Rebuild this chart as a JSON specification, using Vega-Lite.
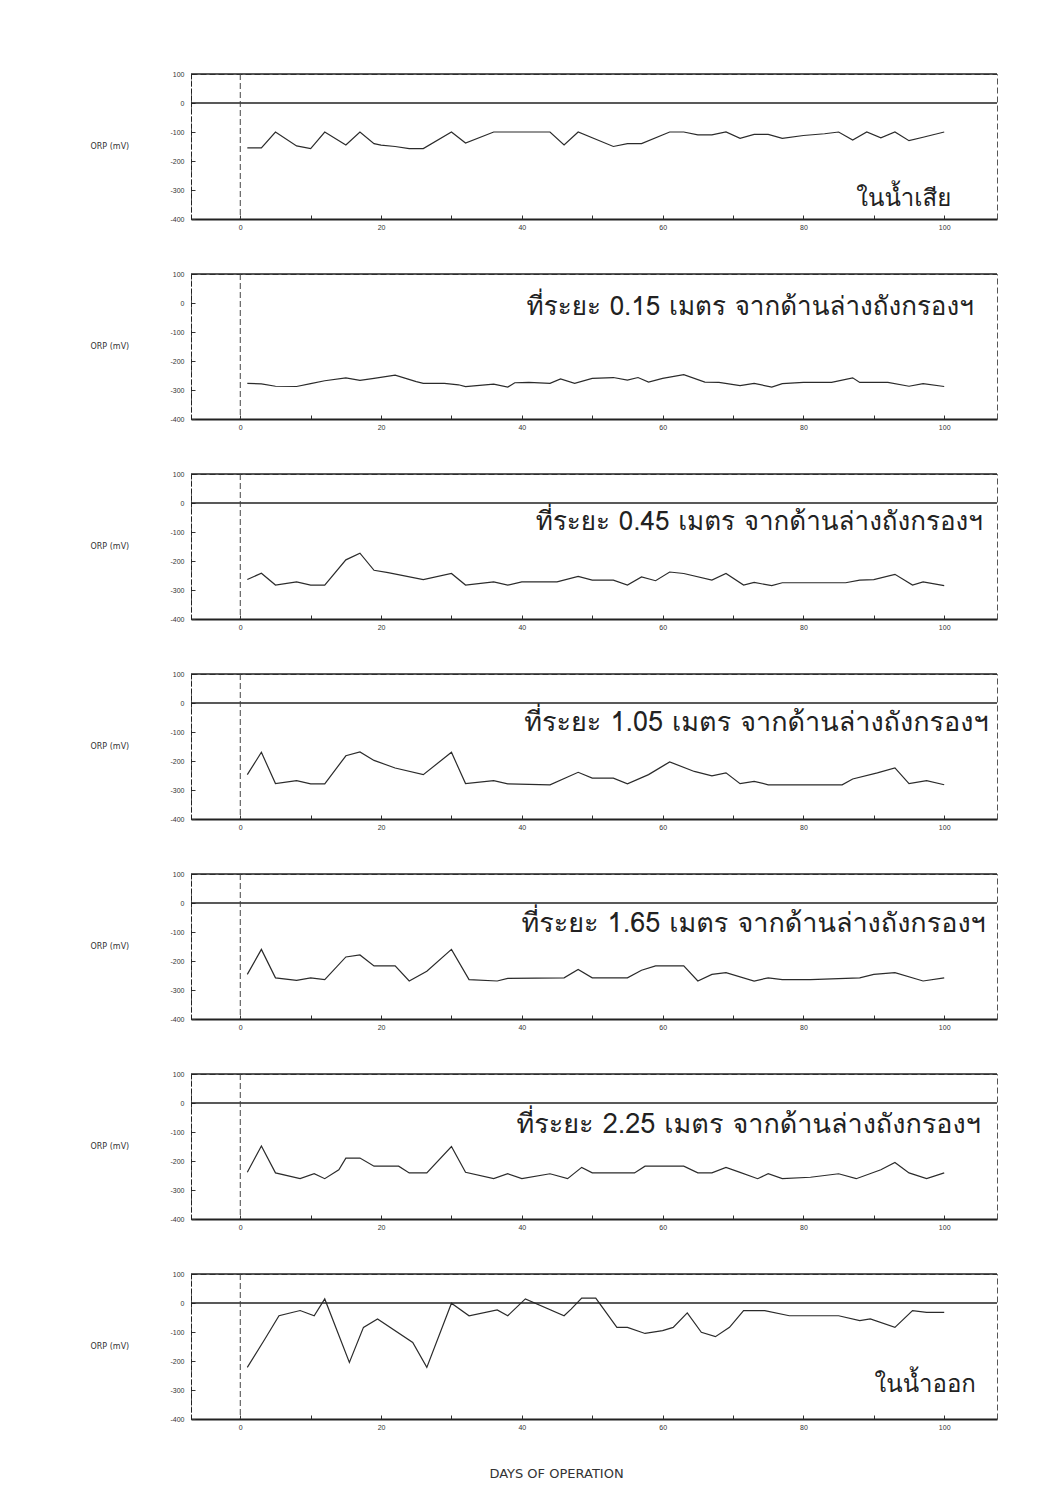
{
  "$schema": "https://vega.github.io/schema/vega-lite/v6.json",
  "background": "white",
  "padding": {"left": 89, "top": 69, "right": 10, "bottom": 10},
  "spacing": 55,
  "bounds": "flush",
  "config": {
    "font": "Liberation Sans",
    "view": {"stroke": "#555", "strokeDash": [6, 3], "strokeWidth": 1},
    "axis": {
      "grid": false,
      "domainColor": "#222",
      "tickColor": "#333",
      "labelColor": "#333",
      "labelFont": "Liberation Sans",
      "labelFontSize": 7,
      "labelOverlap": false,
      "titleFont": "DejaVu Sans",
      "titleFontWeight": "normal",
      "titleColor": "#333"
    },
    "axisX": {"domainWidth": 2, "tickSize": -4, "tickWidth": 1, "labelPadding": 8},
    "axisY": {"domainWidth": 1, "domainDash": [5, 2], "tickSize": -4, "labelPadding": 11, "titleAngle": 0, "titleAlign": "left", "titleBaseline": "middle", "titleX": -101, "titleY": 72, "titleFontSize": 8}
  },
  "datasets": {
    "s1": [
      {"day": 1, "orp": -155}, {"day": 3, "orp": -155}, {"day": 5, "orp": -100}, {"day": 8, "orp": -148}, {"day": 10, "orp": -157}, {"day": 12, "orp": -100}, {"day": 15, "orp": -145}, {"day": 17, "orp": -100}, {"day": 19, "orp": -140}, {"day": 20, "orp": -145}, {"day": 22, "orp": -150}, {"day": 24, "orp": -157}, {"day": 26, "orp": -157}, {"day": 30, "orp": -100}, {"day": 32, "orp": -138}, {"day": 36, "orp": -100}, {"day": 44, "orp": -100}, {"day": 46, "orp": -145}, {"day": 48, "orp": -100}, {"day": 53, "orp": -150}, {"day": 55, "orp": -140}, {"day": 57, "orp": -140}, {"day": 61, "orp": -100}, {"day": 63, "orp": -100}, {"day": 65, "orp": -110}, {"day": 67, "orp": -110}, {"day": 69, "orp": -100}, {"day": 71, "orp": -122}, {"day": 73, "orp": -108}, {"day": 75, "orp": -108}, {"day": 77, "orp": -122}, {"day": 80, "orp": -112}, {"day": 83, "orp": -106}, {"day": 85, "orp": -100}, {"day": 87, "orp": -128}, {"day": 89, "orp": -100}, {"day": 91, "orp": -120}, {"day": 93, "orp": -100}, {"day": 95, "orp": -130}, {"day": 97, "orp": -118}, {"day": 100, "orp": -100}
    ],
    "s2": [
      {"day": 1, "orp": -277}, {"day": 3, "orp": -279}, {"day": 5, "orp": -287}, {"day": 8, "orp": -288}, {"day": 10, "orp": -278}, {"day": 12, "orp": -268}, {"day": 15, "orp": -258}, {"day": 17, "orp": -267}, {"day": 19, "orp": -260}, {"day": 22, "orp": -249}, {"day": 25, "orp": -271}, {"day": 26, "orp": -277}, {"day": 29, "orp": -277}, {"day": 31, "orp": -282}, {"day": 32, "orp": -288}, {"day": 36, "orp": -280}, {"day": 38, "orp": -290}, {"day": 39, "orp": -275}, {"day": 41, "orp": -274}, {"day": 44, "orp": -277}, {"day": 45.5, "orp": -262}, {"day": 47.5, "orp": -277}, {"day": 50, "orp": -260}, {"day": 53, "orp": -257}, {"day": 55, "orp": -266}, {"day": 56.5, "orp": -257}, {"day": 58, "orp": -273}, {"day": 60, "orp": -260}, {"day": 63, "orp": -247}, {"day": 66, "orp": -273}, {"day": 68, "orp": -274}, {"day": 71, "orp": -285}, {"day": 73, "orp": -277}, {"day": 75.5, "orp": -290}, {"day": 77, "orp": -278}, {"day": 80, "orp": -274}, {"day": 84, "orp": -274}, {"day": 87, "orp": -258}, {"day": 88, "orp": -274}, {"day": 92, "orp": -274}, {"day": 95, "orp": -287}, {"day": 97, "orp": -278}, {"day": 100, "orp": -288}
    ],
    "s3": [
      {"day": 1, "orp": -264}, {"day": 3, "orp": -242}, {"day": 5, "orp": -283}, {"day": 8, "orp": -272}, {"day": 10, "orp": -283}, {"day": 12, "orp": -283}, {"day": 15, "orp": -196}, {"day": 17, "orp": -173}, {"day": 19, "orp": -232}, {"day": 21, "orp": -240}, {"day": 26, "orp": -264}, {"day": 30, "orp": -243}, {"day": 32, "orp": -283}, {"day": 36, "orp": -272}, {"day": 38, "orp": -283}, {"day": 40, "orp": -272}, {"day": 45, "orp": -272}, {"day": 48, "orp": -253}, {"day": 50, "orp": -266}, {"day": 53, "orp": -266}, {"day": 55, "orp": -283}, {"day": 57, "orp": -255}, {"day": 59, "orp": -268}, {"day": 61, "orp": -238}, {"day": 63, "orp": -243}, {"day": 67, "orp": -266}, {"day": 69, "orp": -243}, {"day": 71.5, "orp": -283}, {"day": 73, "orp": -274}, {"day": 75.5, "orp": -285}, {"day": 77, "orp": -275}, {"day": 81, "orp": -275}, {"day": 86, "orp": -275}, {"day": 88, "orp": -266}, {"day": 90, "orp": -264}, {"day": 93, "orp": -246}, {"day": 95.5, "orp": -283}, {"day": 97, "orp": -272}, {"day": 100, "orp": -285}
    ],
    "s4": [
      {"day": 1, "orp": -247}, {"day": 3, "orp": -170}, {"day": 5, "orp": -278}, {"day": 8, "orp": -268}, {"day": 10, "orp": -279}, {"day": 12, "orp": -279}, {"day": 15, "orp": -182}, {"day": 17, "orp": -169}, {"day": 19, "orp": -198}, {"day": 22, "orp": -224}, {"day": 26, "orp": -247}, {"day": 30, "orp": -170}, {"day": 32, "orp": -278}, {"day": 36, "orp": -268}, {"day": 38, "orp": -279}, {"day": 44, "orp": -282}, {"day": 48, "orp": -239}, {"day": 50, "orp": -259}, {"day": 53, "orp": -259}, {"day": 55, "orp": -279}, {"day": 58, "orp": -247}, {"day": 61, "orp": -203}, {"day": 64.5, "orp": -236}, {"day": 67, "orp": -251}, {"day": 69, "orp": -241}, {"day": 71, "orp": -278}, {"day": 73, "orp": -270}, {"day": 75, "orp": -282}, {"day": 85.5, "orp": -282}, {"day": 87, "orp": -262}, {"day": 90.5, "orp": -241}, {"day": 93, "orp": -224}, {"day": 95, "orp": -278}, {"day": 97.5, "orp": -268}, {"day": 100, "orp": -282}
    ],
    "s5": [
      {"day": 1, "orp": -246}, {"day": 3, "orp": -160}, {"day": 5, "orp": -258}, {"day": 8, "orp": -267}, {"day": 10, "orp": -258}, {"day": 12, "orp": -264}, {"day": 15, "orp": -186}, {"day": 17, "orp": -179}, {"day": 19, "orp": -217}, {"day": 22, "orp": -217}, {"day": 24, "orp": -269}, {"day": 26.5, "orp": -235}, {"day": 30, "orp": -160}, {"day": 32.5, "orp": -264}, {"day": 36.5, "orp": -269}, {"day": 38, "orp": -260}, {"day": 46, "orp": -258}, {"day": 48, "orp": -229}, {"day": 50, "orp": -258}, {"day": 55, "orp": -258}, {"day": 57, "orp": -232}, {"day": 59, "orp": -217}, {"day": 63, "orp": -217}, {"day": 65, "orp": -269}, {"day": 67, "orp": -246}, {"day": 69, "orp": -240}, {"day": 73, "orp": -269}, {"day": 75, "orp": -258}, {"day": 77, "orp": -264}, {"day": 81, "orp": -264}, {"day": 88, "orp": -258}, {"day": 90, "orp": -246}, {"day": 93, "orp": -240}, {"day": 97, "orp": -269}, {"day": 100, "orp": -258}
    ],
    "s6": [
      {"day": 1, "orp": -239}, {"day": 3, "orp": -148}, {"day": 5, "orp": -241}, {"day": 8.5, "orp": -261}, {"day": 10.5, "orp": -244}, {"day": 12, "orp": -261}, {"day": 14, "orp": -230}, {"day": 15, "orp": -190}, {"day": 17, "orp": -190}, {"day": 19, "orp": -218}, {"day": 22.5, "orp": -218}, {"day": 24, "orp": -241}, {"day": 26.5, "orp": -241}, {"day": 30, "orp": -150}, {"day": 32, "orp": -239}, {"day": 36, "orp": -261}, {"day": 38, "orp": -244}, {"day": 40, "orp": -261}, {"day": 44, "orp": -244}, {"day": 46.5, "orp": -261}, {"day": 48.5, "orp": -222}, {"day": 50, "orp": -241}, {"day": 56, "orp": -241}, {"day": 57.5, "orp": -218}, {"day": 63, "orp": -218}, {"day": 65, "orp": -241}, {"day": 67, "orp": -241}, {"day": 69, "orp": -222}, {"day": 71, "orp": -239}, {"day": 73.5, "orp": -261}, {"day": 75, "orp": -244}, {"day": 77, "orp": -261}, {"day": 81, "orp": -256}, {"day": 85, "orp": -244}, {"day": 87.5, "orp": -261}, {"day": 91, "orp": -230}, {"day": 93, "orp": -205}, {"day": 95, "orp": -241}, {"day": 97.5, "orp": -261}, {"day": 100, "orp": -241}
    ],
    "s7": [
      {"day": 1, "orp": -222}, {"day": 3.5, "orp": -124}, {"day": 5.5, "orp": -44}, {"day": 8.5, "orp": -26}, {"day": 10.5, "orp": -44}, {"day": 12, "orp": 14}, {"day": 15.5, "orp": -205}, {"day": 17.5, "orp": -84}, {"day": 19.5, "orp": -55}, {"day": 24.5, "orp": -136}, {"day": 26.5, "orp": -222}, {"day": 30, "orp": -1}, {"day": 32.5, "orp": -44}, {"day": 36.5, "orp": -24}, {"day": 38, "orp": -44}, {"day": 40.5, "orp": 14}, {"day": 46, "orp": -44}, {"day": 47, "orp": -21}, {"day": 48.5, "orp": 17}, {"day": 50.5, "orp": 17}, {"day": 53.5, "orp": -84}, {"day": 55, "orp": -84}, {"day": 57.5, "orp": -105}, {"day": 60, "orp": -95}, {"day": 61.5, "orp": -84}, {"day": 63.5, "orp": -34}, {"day": 65.5, "orp": -101}, {"day": 67.5, "orp": -116}, {"day": 69.5, "orp": -84}, {"day": 71.5, "orp": -26}, {"day": 74.5, "orp": -26}, {"day": 78, "orp": -44}, {"day": 85, "orp": -44}, {"day": 88, "orp": -61}, {"day": 89.5, "orp": -55}, {"day": 93, "orp": -84}, {"day": 95.5, "orp": -26}, {"day": 97.5, "orp": -32}, {"day": 100, "orp": -32}
    ]
  },
  "vconcat": [
    {
      "width": 806, "height": 145,
      "resolve": {"axis": {"x": "independent", "y": "independent"}},
      "layer": [
        {"data": {"name": "s1"}, "mark": {"type": "line", "color": "#2b2b2b", "strokeWidth": 1.2},
         "encoding": {
           "x": {"field": "day", "type": "quantitative", "scale": {"domain": [-7, 107.5], "nice": false, "zero": false}, "axis": {"title": null, "values": [0, 10, 20, 30, 40, 50, 60, 70, 80, 90, 100], "labelExpr": "datum.value % 20 == 0 ? datum.label : ''"}},
           "y": {"field": "orp", "type": "quantitative", "scale": {"domain": [-400, 100], "nice": false, "zero": false}, "axis": {"title": "ORP (mV)", "labelOverlap": false, "values": [-400, -300, -200, -100, 0, 100], "labelExpr": "toString(datum.value)"}}
         }},
        {"data": {"values": [{}]}, "mark": {"type": "rule", "color": "#222", "strokeWidth": 1.5}, "encoding": {"y": {"datum": 100, "type": "quantitative", "axis": {"labels": false, "ticks": false, "domain": false, "title": null}}}},
        {"data": {"values": [{}]}, "mark": {"type": "rule", "color": "#222", "strokeWidth": 1.5}, "encoding": {"y": {"datum": 0, "type": "quantitative", "axis": {"labels": false, "ticks": false, "domain": false, "title": null}}}},
        {"data": {"values": [{}]}, "mark": {"type": "rule", "color": "#444", "strokeWidth": 1, "strokeDash": [6, 3]}, "encoding": {"x": {"datum": 0, "type": "quantitative", "axis": {"labels": false, "ticks": false, "domain": false, "title": null}}}},
        {"data": {"values": [{}]}, "mark": {"type": "text", "align": "right", "baseline": "middle", "fontSize": 24, "color": "#222", "font": "Tlwg Typo, Loma, Garuda, Noto Sans Thai, sans-serif"}, "encoding": {"x": {"datum": 101, "type": "quantitative", "axis": {"labels": false, "ticks": false, "domain": false, "title": null}}, "y": {"datum": -330, "type": "quantitative", "axis": {"labels": false, "ticks": false, "domain": false, "title": null}}, "text": {"value": "ในน้ำเสีย"}}}
      ]
    },
    {
      "width": 806, "height": 145,
      "resolve": {"axis": {"x": "independent", "y": "independent"}},
      "layer": [
        {"data": {"name": "s2"}, "mark": {"type": "line", "color": "#2b2b2b", "strokeWidth": 1.2},
         "encoding": {
           "x": {"field": "day", "type": "quantitative", "scale": {"domain": [-7, 107.5], "nice": false, "zero": false}, "axis": {"title": null, "values": [0, 10, 20, 30, 40, 50, 60, 70, 80, 90, 100], "labelExpr": "datum.value % 20 == 0 ? datum.label : ''"}},
           "y": {"field": "orp", "type": "quantitative", "scale": {"domain": [-400, 100], "nice": false, "zero": false}, "axis": {"title": "ORP (mV)", "labelOverlap": false, "values": [-400, -300, -200, -100, 0, 100], "labelExpr": "toString(datum.value)"}}
         }},
        {"data": {"values": [{}]}, "mark": {"type": "rule", "color": "#222", "strokeWidth": 1.5}, "encoding": {"y": {"datum": 100, "type": "quantitative", "axis": {"labels": false, "ticks": false, "domain": false, "title": null}}}},
        {"data": {"values": [{}]}, "mark": {"type": "rule", "color": "#444", "strokeWidth": 1, "strokeDash": [6, 3]}, "encoding": {"x": {"datum": 0, "type": "quantitative", "axis": {"labels": false, "ticks": false, "domain": false, "title": null}}}},
        {"data": {"values": [{}]}, "mark": {"type": "text", "align": "right", "baseline": "middle", "fontSize": 26, "color": "#222", "font": "Tlwg Typo, Loma, Garuda, Noto Sans Thai, sans-serif"}, "encoding": {"x": {"datum": 104.2, "type": "quantitative", "axis": {"labels": false, "ticks": false, "domain": false, "title": null}}, "y": {"datum": -15, "type": "quantitative", "axis": {"labels": false, "ticks": false, "domain": false, "title": null}}, "text": {"value": "ที่ระยะ 0.15 เมตร จากด้านล่างถังกรองฯ"}}}
      ]
    },
    {
      "width": 806, "height": 145,
      "resolve": {"axis": {"x": "independent", "y": "independent"}},
      "layer": [
        {"data": {"name": "s3"}, "mark": {"type": "line", "color": "#2b2b2b", "strokeWidth": 1.2},
         "encoding": {
           "x": {"field": "day", "type": "quantitative", "scale": {"domain": [-7, 107.5], "nice": false, "zero": false}, "axis": {"title": null, "values": [0, 10, 20, 30, 40, 50, 60, 70, 80, 90, 100], "labelExpr": "datum.value % 20 == 0 ? datum.label : ''"}},
           "y": {"field": "orp", "type": "quantitative", "scale": {"domain": [-400, 100], "nice": false, "zero": false}, "axis": {"title": "ORP (mV)", "labelOverlap": false, "values": [-400, -300, -200, -100, 0, 100], "labelExpr": "toString(datum.value)"}}
         }},
        {"data": {"values": [{}]}, "mark": {"type": "rule", "color": "#222", "strokeWidth": 1.5}, "encoding": {"y": {"datum": 100, "type": "quantitative", "axis": {"labels": false, "ticks": false, "domain": false, "title": null}}}},
        {"data": {"values": [{}]}, "mark": {"type": "rule", "color": "#222", "strokeWidth": 1.5}, "encoding": {"y": {"datum": 0, "type": "quantitative", "axis": {"labels": false, "ticks": false, "domain": false, "title": null}}}},
        {"data": {"values": [{}]}, "mark": {"type": "rule", "color": "#444", "strokeWidth": 1, "strokeDash": [6, 3]}, "encoding": {"x": {"datum": 0, "type": "quantitative", "axis": {"labels": false, "ticks": false, "domain": false, "title": null}}}},
        {"data": {"values": [{}]}, "mark": {"type": "text", "align": "right", "baseline": "middle", "fontSize": 26, "color": "#222", "font": "Tlwg Typo, Loma, Garuda, Noto Sans Thai, sans-serif"}, "encoding": {"x": {"datum": 105.5, "type": "quantitative", "axis": {"labels": false, "ticks": false, "domain": false, "title": null}}, "y": {"datum": -65, "type": "quantitative", "axis": {"labels": false, "ticks": false, "domain": false, "title": null}}, "text": {"value": "ที่ระยะ 0.45 เมตร จากด้านล่างถังกรองฯ"}}}
      ]
    },
    {
      "width": 806, "height": 145,
      "resolve": {"axis": {"x": "independent", "y": "independent"}},
      "layer": [
        {"data": {"name": "s4"}, "mark": {"type": "line", "color": "#2b2b2b", "strokeWidth": 1.2},
         "encoding": {
           "x": {"field": "day", "type": "quantitative", "scale": {"domain": [-7, 107.5], "nice": false, "zero": false}, "axis": {"title": null, "values": [0, 10, 20, 30, 40, 50, 60, 70, 80, 90, 100], "labelExpr": "datum.value % 20 == 0 ? datum.label : ''"}},
           "y": {"field": "orp", "type": "quantitative", "scale": {"domain": [-400, 100], "nice": false, "zero": false}, "axis": {"title": "ORP (mV)", "labelOverlap": false, "values": [-400, -300, -200, -100, 0, 100], "labelExpr": "toString(datum.value)"}}
         }},
        {"data": {"values": [{}]}, "mark": {"type": "rule", "color": "#222", "strokeWidth": 1.5}, "encoding": {"y": {"datum": 100, "type": "quantitative", "axis": {"labels": false, "ticks": false, "domain": false, "title": null}}}},
        {"data": {"values": [{}]}, "mark": {"type": "rule", "color": "#222", "strokeWidth": 1.5}, "encoding": {"y": {"datum": 0, "type": "quantitative", "axis": {"labels": false, "ticks": false, "domain": false, "title": null}}}},
        {"data": {"values": [{}]}, "mark": {"type": "rule", "color": "#444", "strokeWidth": 1, "strokeDash": [6, 3]}, "encoding": {"x": {"datum": 0, "type": "quantitative", "axis": {"labels": false, "ticks": false, "domain": false, "title": null}}}},
        {"data": {"values": [{}]}, "mark": {"type": "text", "align": "right", "baseline": "middle", "fontSize": 27, "color": "#222", "font": "Tlwg Typo, Loma, Garuda, Noto Sans Thai, sans-serif"}, "encoding": {"x": {"datum": 106.3, "type": "quantitative", "axis": {"labels": false, "ticks": false, "domain": false, "title": null}}, "y": {"datum": -70, "type": "quantitative", "axis": {"labels": false, "ticks": false, "domain": false, "title": null}}, "text": {"value": "ที่ระยะ 1.05 เมตร จากด้านล่างถังกรองฯ"}}}
      ]
    },
    {
      "width": 806, "height": 145,
      "resolve": {"axis": {"x": "independent", "y": "independent"}},
      "layer": [
        {"data": {"name": "s5"}, "mark": {"type": "line", "color": "#2b2b2b", "strokeWidth": 1.2},
         "encoding": {
           "x": {"field": "day", "type": "quantitative", "scale": {"domain": [-7, 107.5], "nice": false, "zero": false}, "axis": {"title": null, "values": [0, 10, 20, 30, 40, 50, 60, 70, 80, 90, 100], "labelExpr": "datum.value % 20 == 0 ? datum.label : ''"}},
           "y": {"field": "orp", "type": "quantitative", "scale": {"domain": [-400, 100], "nice": false, "zero": false}, "axis": {"title": "ORP (mV)", "labelOverlap": false, "values": [-400, -300, -200, -100, 0, 100], "labelExpr": "toString(datum.value)"}}
         }},
        {"data": {"values": [{}]}, "mark": {"type": "rule", "color": "#222", "strokeWidth": 1.5}, "encoding": {"y": {"datum": 100, "type": "quantitative", "axis": {"labels": false, "ticks": false, "domain": false, "title": null}}}},
        {"data": {"values": [{}]}, "mark": {"type": "rule", "color": "#222", "strokeWidth": 1.5}, "encoding": {"y": {"datum": 0, "type": "quantitative", "axis": {"labels": false, "ticks": false, "domain": false, "title": null}}}},
        {"data": {"values": [{}]}, "mark": {"type": "rule", "color": "#444", "strokeWidth": 1, "strokeDash": [6, 3]}, "encoding": {"x": {"datum": 0, "type": "quantitative", "axis": {"labels": false, "ticks": false, "domain": false, "title": null}}}},
        {"data": {"values": [{}]}, "mark": {"type": "text", "align": "right", "baseline": "middle", "fontSize": 27, "color": "#222", "font": "Tlwg Typo, Loma, Garuda, Noto Sans Thai, sans-serif"}, "encoding": {"x": {"datum": 105.9, "type": "quantitative", "axis": {"labels": false, "ticks": false, "domain": false, "title": null}}, "y": {"datum": -72, "type": "quantitative", "axis": {"labels": false, "ticks": false, "domain": false, "title": null}}, "text": {"value": "ที่ระยะ 1.65 เมตร จากด้านล่างถังกรองฯ"}}}
      ]
    },
    {
      "width": 806, "height": 145,
      "resolve": {"axis": {"x": "independent", "y": "independent"}},
      "layer": [
        {"data": {"name": "s6"}, "mark": {"type": "line", "color": "#2b2b2b", "strokeWidth": 1.2},
         "encoding": {
           "x": {"field": "day", "type": "quantitative", "scale": {"domain": [-7, 107.5], "nice": false, "zero": false}, "axis": {"title": null, "values": [0, 10, 20, 30, 40, 50, 60, 70, 80, 90, 100], "labelExpr": "datum.value % 20 == 0 ? datum.label : ''"}},
           "y": {"field": "orp", "type": "quantitative", "scale": {"domain": [-400, 100], "nice": false, "zero": false}, "axis": {"title": "ORP (mV)", "labelOverlap": false, "values": [-400, -300, -200, -100, 0, 100], "labelExpr": "toString(datum.value)"}}
         }},
        {"data": {"values": [{}]}, "mark": {"type": "rule", "color": "#222", "strokeWidth": 1.5}, "encoding": {"y": {"datum": 100, "type": "quantitative", "axis": {"labels": false, "ticks": false, "domain": false, "title": null}}}},
        {"data": {"values": [{}]}, "mark": {"type": "rule", "color": "#222", "strokeWidth": 1.5}, "encoding": {"y": {"datum": 0, "type": "quantitative", "axis": {"labels": false, "ticks": false, "domain": false, "title": null}}}},
        {"data": {"values": [{}]}, "mark": {"type": "rule", "color": "#444", "strokeWidth": 1, "strokeDash": [6, 3]}, "encoding": {"x": {"datum": 0, "type": "quantitative", "axis": {"labels": false, "ticks": false, "domain": false, "title": null}}}},
        {"data": {"values": [{}]}, "mark": {"type": "text", "align": "right", "baseline": "middle", "fontSize": 27, "color": "#222", "font": "Tlwg Typo, Loma, Garuda, Noto Sans Thai, sans-serif"}, "encoding": {"x": {"datum": 105.2, "type": "quantitative", "axis": {"labels": false, "ticks": false, "domain": false, "title": null}}, "y": {"datum": -75, "type": "quantitative", "axis": {"labels": false, "ticks": false, "domain": false, "title": null}}, "text": {"value": "ที่ระยะ 2.25 เมตร จากด้านล่างถังกรองฯ"}}}
      ]
    },
    {
      "width": 806, "height": 145,
      "resolve": {"axis": {"x": "independent", "y": "independent"}},
      "layer": [
        {"data": {"name": "s7"}, "mark": {"type": "line", "color": "#2b2b2b", "strokeWidth": 1.2},
         "encoding": {
           "x": {"field": "day", "type": "quantitative", "scale": {"domain": [-7, 107.5], "nice": false, "zero": false}, "axis": {"title": "DAYS OF OPERATION", "titleFontSize": 13, "titleX": 365, "titleY": 54, "titleBaseline": "middle", "values": [0, 10, 20, 30, 40, 50, 60, 70, 80, 90, 100], "labelExpr": "datum.value % 20 == 0 ? datum.label : ''"}},
           "y": {"field": "orp", "type": "quantitative", "scale": {"domain": [-400, 100], "nice": false, "zero": false}, "axis": {"title": "ORP (mV)", "labelOverlap": false, "values": [-400, -300, -200, -100, 0, 100], "labelExpr": "toString(datum.value)"}}
         }},
        {"data": {"values": [{}]}, "mark": {"type": "rule", "color": "#222", "strokeWidth": 1.5}, "encoding": {"y": {"datum": 100, "type": "quantitative", "axis": {"labels": false, "ticks": false, "domain": false, "title": null}}}},
        {"data": {"values": [{}]}, "mark": {"type": "rule", "color": "#222", "strokeWidth": 1.5}, "encoding": {"y": {"datum": 0, "type": "quantitative", "axis": {"labels": false, "ticks": false, "domain": false, "title": null}}}},
        {"data": {"values": [{}]}, "mark": {"type": "rule", "color": "#444", "strokeWidth": 1, "strokeDash": [6, 3]}, "encoding": {"x": {"datum": 0, "type": "quantitative", "axis": {"labels": false, "ticks": false, "domain": false, "title": null}}}},
        {"data": {"values": [{}]}, "mark": {"type": "text", "align": "right", "baseline": "middle", "fontSize": 24, "color": "#222", "font": "Tlwg Typo, Loma, Garuda, Noto Sans Thai, sans-serif"}, "encoding": {"x": {"datum": 104.5, "type": "quantitative", "axis": {"labels": false, "ticks": false, "domain": false, "title": null}}, "y": {"datum": -282, "type": "quantitative", "axis": {"labels": false, "ticks": false, "domain": false, "title": null}}, "text": {"value": "ในน้ำออก"}}}
      ]
    }
  ]
}
